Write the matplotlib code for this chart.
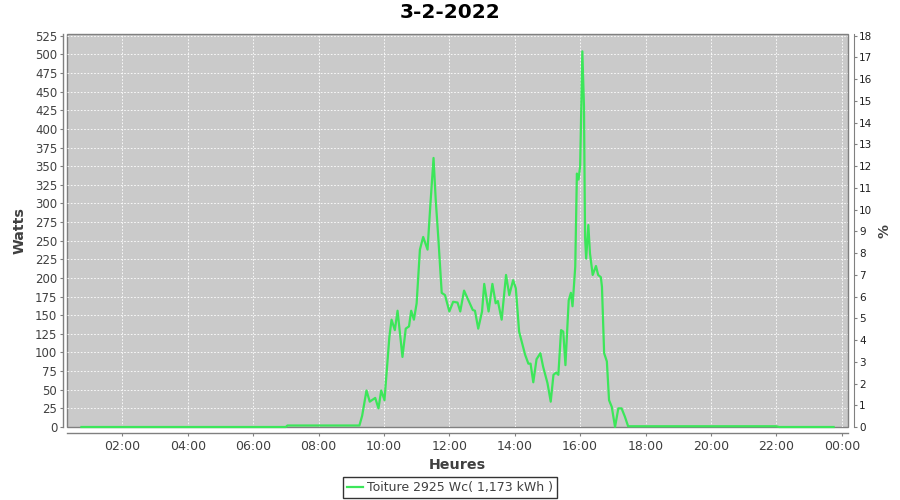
import matplotlib
matplotlib.use("Agg")
import matplotlib.pyplot as plt
import matplotlib.dates as mdates
from datetime import datetime, timedelta

plt.rcParams['font.family'] = ['DejaVu Sans']

title = "3-2-2022"
series_label = "Toiture 2925 Wc( 1,173 kWh )"
x_label = "Heures"
y_label = "Watts"
y2_label = "%"

times = ["00:45", "07:00", "07:03", "09:15", "09:20", "09:28", "09:34", "09:44", "09:50", "09:55",
         "10:01", "10:10", "10:14", "10:20", "10:25", "10:34", "10:40", "10:46", "10:50", "10:55",
         "11:00", "11:06", "11:12", "11:20", "11:25", "11:31", "11:35", "11:40", "11:46", "11:52",
         "12:00", "12:07", "12:15", "12:20", "12:27", "12:35", "12:43", "12:47", "12:53", "13:00",
         "13:04", "13:12", "13:19", "13:25", "13:29", "13:36", "13:44", "13:50", "13:57", "14:02",
         "14:08", "14:19", "14:25", "14:29", "14:34", "14:40", "14:47", "14:52", "15:00", "15:06",
         "15:11", "15:16", "15:20", "15:25", "15:29", "15:33", "15:39", "15:43", "15:46", "15:51",
         "15:54", "15:57", "16:00", "16:04", "16:07", "16:09", "16:11", "16:15", "16:18", "16:23",
         "16:29", "16:33", "16:38", "16:40", "16:44", "16:49", "16:53", "16:58", "17:04", "17:10",
         "17:16", "17:22", "17:28", "22:00", "22:05", "23:45"]
watts = [0, 0, 2, 2, 15, 49, 34, 39, 25, 49,
         36, 121, 144, 130, 156, 94, 132, 135, 156, 144,
         166, 238, 255, 238, 296, 361, 305, 251, 180, 177,
         155, 168, 167, 155, 183, 170, 157, 156, 132, 155,
         192, 155, 192, 166, 169, 144, 204, 177, 197, 186,
         128, 97, 85, 85, 60, 91, 99, 81, 59, 34,
         70, 73, 70, 130, 128, 83, 170, 180, 162, 215,
         340, 332, 350, 504, 430, 255, 226, 271, 233, 204,
         216, 204, 201, 188, 99, 88, 36, 27, 0, 25,
         25, 14, 1, 1, 0, 0]

day = datetime(2022, 2, 3)
def to_dt(s):
    h, m = s.split(":")
    return day + timedelta(hours=int(h), minutes=int(m))
xs = [to_dt(s) for s in times]

text_col = '#404040'
fig = plt.figure(figsize=(9, 5), dpi=100)
ax = fig.add_axes([67/900, 1-427/500, (848-67)/900, (427-34)/500])
ax.set_facecolor('#cacaca')
ax.patch.set_edgecolor('#808080')
ax.patch.set_linewidth(1.0)

line, = ax.plot(xs, watts, color='#3ce65a', linewidth=1.6, zorder=5, clip_on=False)

ax.set_ylim(0, 527.3)
ax.set_yticks(list(range(0, 526, 25)))
x0 = day + timedelta(hours=0.309)
x1 = day + timedelta(hours=24.19)
ax.set_xlim(x0, x1)
ax.xaxis.set_major_locator(mdates.HourLocator(byhour=range(0, 24, 2)))
ax.xaxis.set_major_formatter(mdates.DateFormatter('%H:%M'))

ax.grid(True, color='white', linestyle=(0, (2, 2)), linewidth=0.6)
ax.set_axisbelow(True)

for s in ['top', 'right']:
    ax.spines[s].set_visible(False)
ax.spines['left'].set_position(('outward', 3))
ax.spines['bottom'].set_position(('outward', 4))
for s in ['left', 'bottom']:
    ax.spines[s].set_color('#808080')
    ax.spines[s].set_linewidth(1.0)

ax.tick_params(axis='both', direction='out', length=2, width=0.8, color='#808080',
               labelcolor=text_col, labelsize=8.5, pad=2)
ax.tick_params(axis='x', labelsize=9, pad=3)

ax.set_xlabel(x_label, fontsize=10.3, fontweight='bold', color=text_col, labelpad=4)
ax.set_ylabel(y_label, fontsize=10.3, fontweight='bold', color=text_col, labelpad=6)

ax2 = ax.twinx()
ax2.set_ylim(0, 527.3 / 525 * 18)
ax2.set_yticks(list(range(0, 19)))
for s in ['top', 'left', 'bottom']:
    ax2.spines[s].set_visible(False)
ax2.spines['right'].set_position(('outward', 4))
ax2.spines['right'].set_color('#808080')
ax2.tick_params(axis='y', direction='out', length=2, width=0.8, color='#808080',
                labelcolor='#202020', labelsize=7.5, pad=2)
ax2.set_ylabel(y2_label, fontsize=10, fontweight='bold', color=text_col, labelpad=4)

fig.text(0.5, 1-13/500, title, ha='center', va='center', fontsize=14.5, fontweight='bold', color='black')

leg = fig.legend([line], [series_label], loc='center', bbox_to_anchor=(450/900, 1-487.5/500),
                 frameon=True, fancybox=False, fontsize=9,
                 handlelength=1.3, handletextpad=0.3, borderpad=0.35, borderaxespad=0)
leg.get_frame().set_edgecolor('black')
leg.get_frame().set_linewidth(1.0)
for t in leg.get_texts():
    t.set_color(text_col)

fig.savefig('out.png', dpi=100)
